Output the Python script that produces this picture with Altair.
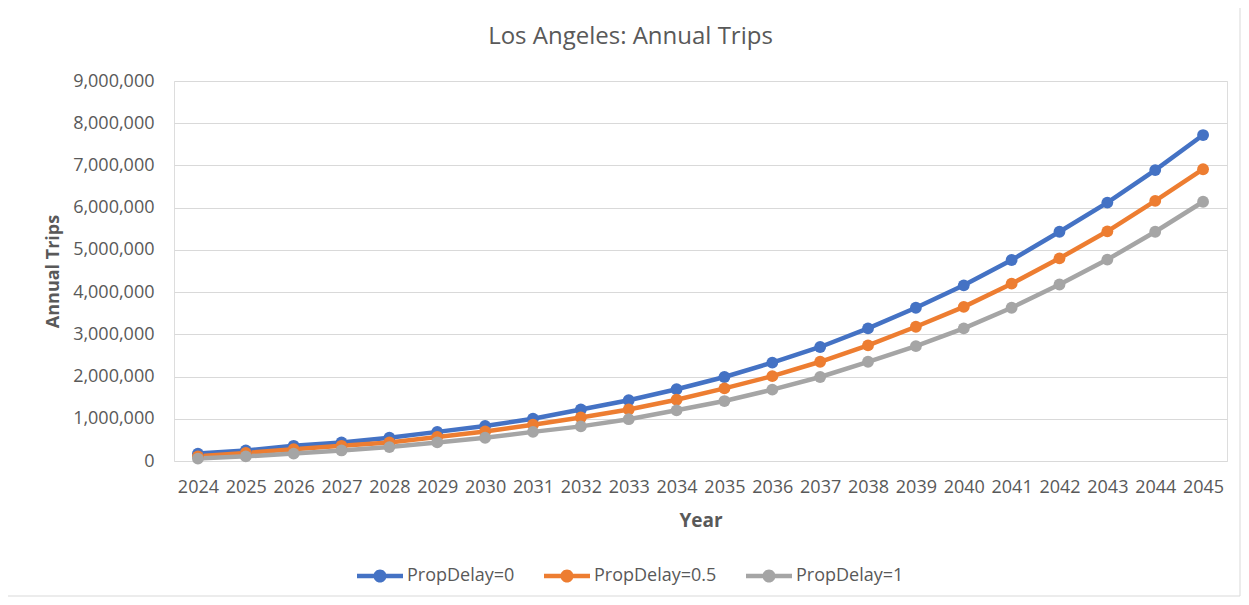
import altair as alt
import pandas as pd

years = [str(y) for y in range(2024, 2046)]
series_names = ["PropDelay=0", "PropDelay=0.5", "PropDelay=1"]
trips_delay0 = [175000, 250000, 360000, 440000, 550000, 690000, 830000, 1000000,
                1220000, 1440000, 1700000, 1990000, 2330000, 2700000, 3140000,
                3630000, 4160000, 4760000, 5430000, 6120000, 6890000, 7720000]
trips_delay05 = [110000, 190000, 280000, 360000, 440000, 570000, 700000, 860000,
                 1030000, 1220000, 1450000, 1720000, 2010000, 2350000, 2740000,
                 3180000, 3650000, 4200000, 4800000, 5440000, 6160000, 6910000]
trips_delay1 = [57000, 110000, 175000, 250000, 330000, 440000, 550000, 690000,
                820000, 990000, 1200000, 1420000, 1690000, 1990000, 2350000,
                2720000, 3140000, 3630000, 4180000, 4770000, 5430000, 6140000]
y_ticks = [0, 1000000, 2000000, 3000000, 4000000, 5000000, 6000000, 7000000, 8000000, 9000000]
colors = ["#4472C4", "#ED7D31", "#A5A5A5"]

rows = []
for name, vals in zip(series_names, [trips_delay0, trips_delay05, trips_delay1]):
    for yr, v in zip(years, vals):
        rows.append({"Year": yr, "Trips": v, "Series": name})
df = pd.DataFrame(rows)

FONT = "Open Sans"
TXT = "#595959"
W, H = 1053, 380

x_enc = alt.X(
    "Year:O", sort=years,
    scale=alt.Scale(type="point", padding=0.5),
    axis=alt.Axis(
        title="Year", labelAngle=0, ticks=False, domain=False, grid=False,
        labelPadding=17, labelFontSize=18, labelFont=FONT, labelColor=TXT,
        labelOverlap=False,
        titleFont=FONT, titleFontSize=19, titleFontWeight="bold", titleColor=TXT,
        titleX=W / 2, titleY=65, titleBaseline="alphabetic", titleAlign="center",
    ),
)
y_enc = alt.Y(
    "Trips:Q",
    scale=alt.Scale(domain=[0, 9000000], nice=False),
    axis=alt.Axis(
        title="Annual Trips", values=y_ticks, format=",d", ticks=False, domain=False,
        gridColor="#d9d9d9", gridWidth=1,
        labelPadding=20, labelFontSize=18, labelFont=FONT, labelColor=TXT,
        titleFont=FONT, titleFontSize=18, titleFontWeight="bold", titleColor=TXT,
        titleAngle=-90, titleX=-116, titleY=H / 2, titleBaseline="alphabetic",
        titleAlign="center",
    ),
)
color_scale = alt.Scale(domain=series_names, range=colors)

sym = ("M-1,-0.098 L1,-0.098 L1,0.098 L-1,0.098 Z "
       "M0.283,0 A0.283,0.283 0 1,1 -0.283,0 A0.283,0.283 0 1,1 0.283,0 Z")

lines = alt.Chart(df).mark_line(strokeWidth=4.5).encode(
    x=x_enc, y=y_enc,
    color=alt.Color("Series:N", scale=color_scale, legend=None),
)
points = alt.Chart(df).mark_point(filled=True, size=140, opacity=1).encode(
    x=x_enc, y=y_enc,
    color=alt.Color(
        "Series:N", scale=color_scale,
        legend=alt.Legend(
            title=None, orient="none", direction="horizontal",
            legendX=183, legendY=472, padding=0,
            symbolType=sym, symbolSize=2116, symbolStrokeWidth=0, symbolOpacity=1,
            labelFont=FONT, labelFontSize=18, labelColor=TXT, labelOffset=4,
            columnPadding=29,
        ),
    ),
)
frame = alt.Chart(pd.DataFrame({"f": [0]})).mark_rect(
    fill="transparent", stroke="#d9d9d9", strokeWidth=1
).encode(
    x=alt.value(-167), x2=alt.value(1066), y=alt.value(-74), y2=alt.value(515)
)

chart = alt.layer(frame, lines, points).resolve_legend(color="independent").properties(
    width=W, height=H,
    title=alt.TitleParams(
        text="Los Angeles: Annual Trips", font=FONT, fontSize=24,
        fontWeight="normal", color=TXT, anchor="middle", frame="group",
        baseline="alphabetic", offset=-61, dx=-70,
    ),
    autosize=alt.AutoSizeParams(type="none"),
    padding={"left": 166, "top": 73, "right": 14, "bottom": 136},
).configure_view(stroke=None).configure(background="white")

chart.save("out.html", embed_options={"renderer": "svg", "actions": False})
